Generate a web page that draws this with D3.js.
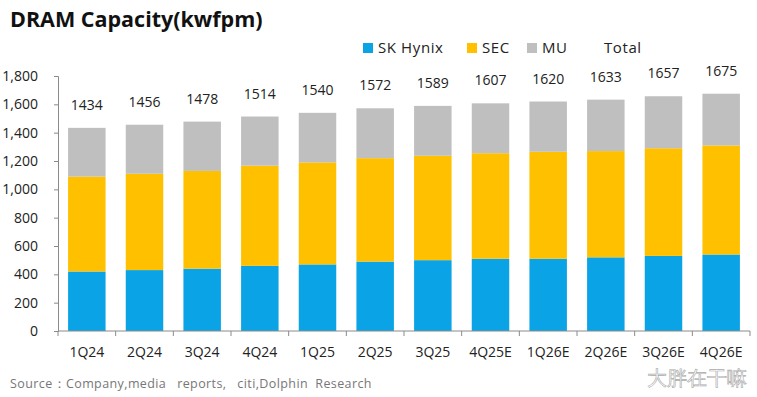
<!DOCTYPE html>
<html>
<head>
<meta charset="utf-8">
<script src="https://cdn.jsdelivr.net/npm/d3@7"></script>
<style>
  body { margin: 0; background: #fff; }
  text { font-family: "Open Sans", "Noto Sans", sans-serif; }
</style>
</head>
<body>
<div id="chart"></div>
<script>
// quarters on the x axis
let quarters = ["1Q24", "2Q24", "3Q24", "4Q24", "1Q25", "2Q25", "3Q25", "4Q25E", "1Q26E", "2Q26E", "3Q26E", "4Q26E"];
// capacity per maker, kwfpm
let skHynix = [420, 430, 440, 460, 470, 490, 500, 510, 510, 520, 530, 540];
let sec     = [670, 680, 690, 707, 720, 730, 737, 745, 755, 750, 760, 770];
let mu      = [344, 346, 348, 347, 350, 352, 352, 352, 355, 363, 367, 365];
let totals  = [1434, 1456, 1478, 1514, 1540, 1572, 1589, 1607, 1620, 1633, 1657, 1675];
let yTicks  = [0, 200, 400, 600, 800, 1000, 1200, 1400, 1600, 1800];

let series_names = ["SK Hynix", "SEC", "MU"];
let fill_colors = ["#0AA4E6", "#FFC000", "#BFBFBF"];

let width = 757, height = 397;
let margin = {top: 76, right: 7, bottom: 66, left: 58};

let svg = d3.select("#chart").append("svg")
    .attr("width", width)
    .attr("height", height);

let xScale = d3.scaleBand()
    .domain(quarters)
    .range([margin.left, width - margin.right])
    .paddingInner(0.35)
    .paddingOuter(0.175);

let yScale = d3.scaleLinear()
    .domain([0, 1800])
    .range([height - margin.bottom, margin.top]);

// build the stack from the three arrays
let table = quarters.map(function (q, i) {
    return {q: q, "SK Hynix": skHynix[i], "SEC": sec[i], "MU": mu[i]};
});
let stacked = d3.stack().keys(series_names)(table);

svg.append("g")
    .selectAll("g")
    .data(stacked)
    .enter().append("g")
    .attr("fill", function (d, i) { return fill_colors[i]; })
    .selectAll("rect")
    .data(function (d) { return d; })
    .enter().append("rect")
    .attr("x", function (d) { return xScale(d.data.q); })
    .attr("y", function (d) { return yScale(d[1]); })
    .attr("width", xScale.bandwidth())
    .attr("height", function (d) { return yScale(d[0]) - yScale(d[1]); });

// total labels above each bar
svg.append("g")
    .selectAll("text")
    .data(totals)
    .enter().append("text")
    .attr("x", function (d, i) { return xScale(quarters[i]) + xScale.bandwidth() / 2; })
    .attr("y", function (d) { return yScale(d) - 18; })
    .attr("text-anchor", "middle")
    .attr("font-size", 14)
    .attr("fill", "#222")
    .text(function (d) { return d; });

// y axis
let yAxis = svg.append("g")
    .attr("transform", "translate(" + margin.left + ",0)")
    .call(d3.axisLeft(yScale).tickValues(yTicks).tickSize(4).tickPadding(16)
        .tickFormat(d3.format(",")));
yAxis.selectAll("text").attr("font-size", 14).attr("fill", "#222").attr("font-family", "Open Sans");
yAxis.selectAll("line, path").attr("stroke", "#8a8a8a");

// x axis with ticks between categories
let x0 = height - margin.bottom;
let xAxis = svg.append("g");
xAxis.append("line")
    .attr("x1", margin.left).attr("x2", width - margin.right)
    .attr("y1", x0).attr("y2", x0)
    .attr("stroke", "#8a8a8a");
let step = xScale.step();
xAxis.selectAll(".tk")
    .data(d3.range(quarters.length + 1))
    .enter().append("line")
    .attr("x1", function (i) { return margin.left + i * step; })
    .attr("x2", function (i) { return margin.left + i * step; })
    .attr("y1", x0).attr("y2", x0 + 5)
    .attr("stroke", "#8a8a8a");
xAxis.selectAll("text")
    .data(quarters)
    .enter().append("text")
    .attr("x", function (d) { return xScale(d) + xScale.bandwidth() / 2; })
    .attr("y", x0 + 26)
    .attr("text-anchor", "middle")
    .attr("font-size", 14)
    .attr("fill", "#222")
    .text(function (d) { return d; });

// title
svg.append("text")
    .attr("x", 10).attr("y", 27)
    .attr("font-size", 21.5)
    .attr("font-weight", "bold")
    .attr("fill", "#111")
    .text("DRAM Capacity(kwfpm)");

// legend
let legend_items = [
    {name: "SK Hynix", color: fill_colors[0], x: 363},
    {name: "SEC", color: fill_colors[1], x: 467},
    {name: "MU", color: fill_colors[2], x: 527},
    {name: "Total", color: null, x: 589}
];
let legend = svg.append("g");
legend_items.forEach(function (it) {
    if (it.color) {
        legend.append("rect")
            .attr("x", it.x).attr("y", 43)
            .attr("width", 10).attr("height", 10)
            .attr("fill", it.color);
    }
    legend.append("text")
        .attr("x", it.x + 15).attr("y", 53)
        .attr("font-size", 15)
        .attr("letter-spacing", 0.6)
        .attr("fill", "#222")
        .text(it.name);
});

// source note
svg.append("text")
    .attr("x", 10).attr("y", 388)
    .attr("font-size", 12.5)
    .attr("letter-spacing", 0.4)
    .attr("fill", "#777")
    .style("white-space", "pre")
    .text("Source：Company,media   reports,   citi,Dolphin  Research");

// watermark
svg.append("text")
    .attr("x", 747).attr("y", 385)
    .attr("text-anchor", "end")
    .attr("font-size", 20)
    .attr("font-weight", 300)
    .attr("font-family", "Noto Sans CJK SC")
    .attr("fill", "#fff")
    .attr("stroke", "#aaa")
    .attr("stroke-width", 0.6)
    .text("大胖在干嘛");
</script>
</body>
</html>
